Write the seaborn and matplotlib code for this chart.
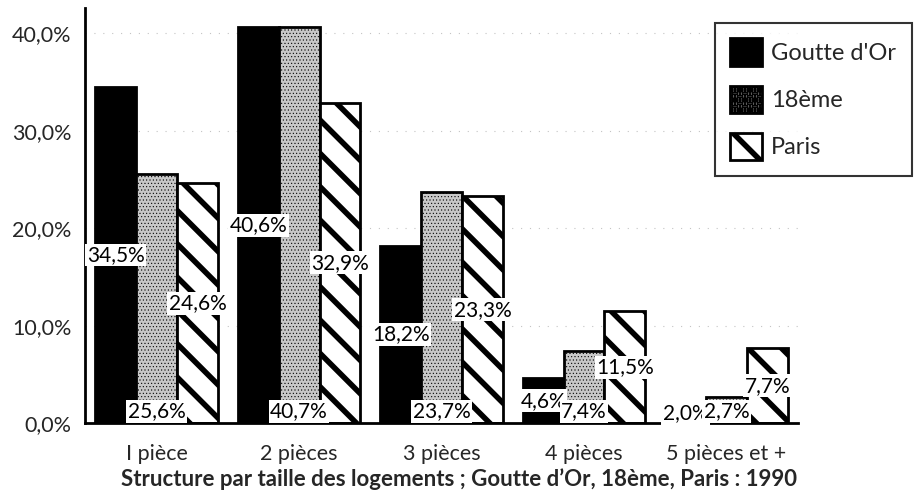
import matplotlib
matplotlib.use("Agg")
import matplotlib.pyplot as plt
import matplotlib.patches as mpatches
import seaborn as sns
import pandas as pd
import numpy as np

# data (percent)
tailles = ['I pièce', '2 pièces', '3 pièces', '4 pièces', '5 pièces et +']
zones = ["Goutte d'Or", '18ème', 'Paris']
goutte_dor = [34.5, 40.6, 18.2, 4.6, 2.0]
dix_huit = [25.6, 40.7, 23.7, 7.4, 2.7]
paris = [24.6, 32.9, 23.3, 11.5, 7.7]

df = pd.DataFrame({
    'taille': tailles * 3,
    'zone': [zones[0]] * 5 + [zones[1]] * 5 + [zones[2]] * 5,
    'pct': goutte_dor + dix_huit + paris,
})

sns.set_style('white')
plt.rcParams['font.family'] = ['Lato', 'DejaVu Sans']
plt.rcParams['hatch.linewidth'] = 4

fig = plt.figure(figsize=(9.18, 4.99), dpi=100)
ax = fig.add_axes([0.093, 0.152, 0.776, 0.832])

faces = ['black', '#c8c8c8', 'white']
sns.barplot(data=df, x='taille', y='pct', hue='zone', palette=faces,
            width=0.86, edgecolor='black', linewidth=2, saturation=1,
            legend=False, ax=ax)

hatches = [None, '.....', '\\']
hlw = [1, 0.4, 4]
for cont, h, lw in zip(ax.containers, hatches, hlw):
    for p in cont.patches:
        if h:
            p.set_hatch(h)
            if hasattr(p, 'set_hatch_linewidth'):
                p.set_hatch_linewidth(lw)

# value labels in white boxes
positions = ['mid', 'base', 'mid']
for cont, pos in zip(ax.containers, positions):
    for p in cont.patches:
        v = p.get_height()
        xc = p.get_x() + p.get_width() / 2
        y = v / 2 if pos == 'mid' else 0.2
        va = 'center' if pos == 'mid' else 'bottom'
        ax.text(xc, y, f'{v:.1f}%'.replace('.', ','), ha='center', va=va,
                fontsize=15, color='black',
                bbox=dict(facecolor='white', edgecolor='none', pad=1))

ax.set_xlim(-0.5, 4.5)
ax.set_ylim(0, 42.6)
ax.set_yticks([0, 10, 20, 30, 40])
ax.set_yticklabels(['0,0%', '10,0%', '20,0%', '30,0%', '40,0%'], fontsize=15.5)
ax.set_xticklabels(tailles, fontsize=15.5)
ax.set_xlabel('')
ax.set_ylabel('')
ax.set_xticks(np.arange(-0.5, 4.6, 1), minor=True)
ax.tick_params(axis='x', which='major', length=0, pad=15)
ax.tick_params(axis='x', which='minor', length=8, width=2, color='black')
ax.tick_params(axis='y', length=7, width=1, color='black', pad=3)
ax.yaxis.grid(True, color='#c4c4c4', linestyle=(0, (1, 7)), linewidth=0.8)
ax.set_axisbelow(True)

for s in ['top', 'right']:
    ax.spines[s].set_visible(False)
for s in ['left', 'bottom']:
    ax.spines[s].set_linewidth(2)
    ax.spines[s].set_color('black')

handles = [
    mpatches.Patch(facecolor='black', edgecolor='black', linewidth=2, label=zones[0]),
    mpatches.Patch(facecolor='#c8c8c8', edgecolor='black', linewidth=2, hatch='.....', label=zones[1]),
    mpatches.Patch(facecolor='white', edgecolor='black', linewidth=2, hatch='\\', label=zones[2]),
]
leg = fig.legend(handles=handles, loc='upper right', bbox_to_anchor=(0.993, 0.954),
                 fontsize=17, frameon=True, fancybox=False, edgecolor='black',
                 handlelength=1.35, handleheight=1.4, labelspacing=0.85,
                 borderpad=0.65, handletextpad=0.4, borderaxespad=0)
leg.get_frame().set_linewidth(1.5)

fig.text(0.5, 0.04, "Structure par taille des logements ; Goutte d\u2019Or, 18ème, Paris : 1990",
         ha='center', va='center', fontsize=16, fontweight='bold')

fig.savefig('out.png', dpi=100)
